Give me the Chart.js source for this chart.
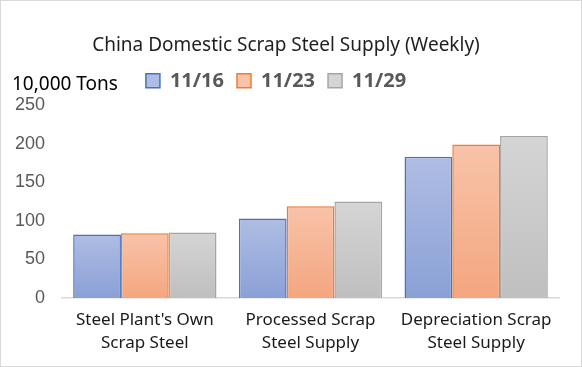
<!DOCTYPE html>
<html>
<head>
<meta charset="utf-8">
<script src="https://cdn.jsdelivr.net/npm/chart.js@4.4.1/dist/chart.umd.min.js"></script>
<style>
  body { margin: 0; background: #fff; }
  #wrap { width: 582px; height: 367px; position: relative; }
</style>
</head>
<body>
<div id="wrap"><canvas id="supply-chart"></canvas></div>
<script>
// data (10,000 tons)
const categories = [
    ["Steel Plant's Own", "Scrap Steel"],
    ["Processed Scrap", "Steel Supply"],
    ["Depreciation Scrap", "Steel Supply"]
];
const weekLabels = ["11/16", "11/23", "11/29"];
const nov16 = [82.5, 103, 183];
const nov23 = [84, 119, 199];
const nov29 = [85, 125, 210];
const yTicks = [0, 50, 100, 150, 200, 250];

// top -> bottom gradient for every bar, like the office chart
function barFill(top, mid, bottom) {
    return (ctx) => {
        const chart = ctx.chart;
        const y = chart.scales && chart.scales.y;
        if (!chart.chartArea || !y || typeof ctx.raw !== 'number') return mid;
        const g = chart.ctx.createLinearGradient(0, y.getPixelForValue(ctx.raw), 0, y.getPixelForValue(0));
        g.addColorStop(0, top);
        g.addColorStop(1, bottom);
        return g;
    };
}

const frame = {
    id: 'frame',
    beforeDraw(chart) {
        const c = chart.ctx;
        c.save();
        c.fillStyle = '#fff';
        c.fillRect(0, 0, chart.width, chart.height);
        c.strokeStyle = '#d9d9d9';
        c.lineWidth = 1;
        c.strokeRect(0.5, 0.5, chart.width - 1, chart.height - 1);
        c.restore();
    },
    afterLayout(chart) {
        // legend sits a bit left of the title centre
        if (chart.legend) {
            chart.legend.left -= 10;
            chart.legend.right -= 10;
        }
    },
    afterDraw(chart) {
        const c = chart.ctx;
        c.save();
        c.font = '19px "Noto Sans"';
        c.fillStyle = '#000';
        c.textBaseline = 'middle';
        c.textAlign = 'left';
        c.fillText('10,000 Tons', 12, 85);
        c.restore();
    }
};

document.addEventListener("DOMContentLoaded", () => {
    new Chart(document.getElementById('supply-chart'), {
        type: 'bar',
        data: {
            labels: categories,
            datasets: [
                {
                    label: weekLabels[0],
                    data: nov16,
                    backgroundColor: barFill('#afbde3', '#9badda', '#8aa0d6'),
                    borderColor: '#4472c4',
                    borderWidth: 1.5
                },
                {
                    label: weekLabels[1],
                    data: nov23,
                    backgroundColor: barFill('#f8c3a9', '#f6b391', '#f4a67f'),
                    borderColor: '#ed7d31',
                    borderWidth: 1.5
                },
                {
                    label: weekLabels[2],
                    data: nov29,
                    backgroundColor: barFill('#d5d5d5', '#cacaca', '#bfbfbf'),
                    borderColor: '#a5a5a5',
                    borderWidth: 1.5
                }
            ]
        },
        options: {
            responsive: true,
            maintainAspectRatio: false,
            animation: false,
            categoryPercentage: 0.865,
            barPercentage: 1.0,
            layout: { padding: { top: 0, left: 13, right: 23, bottom: 1 } },
            plugins: {
                title: {
                    display: true,
                    text: 'China Domestic Scrap Steel Supply (Weekly)',
                    color: '#1f1f1f',
                    font: { family: 'Noto Sans', size: 19, weight: 'normal' },
                    padding: { top: 34, bottom: 1 }
                },
                // empty spacer between legend and plot
                subtitle: {
                    display: true,
                    text: '',
                    weight: 500,
                    font: { size: 1 },
                    padding: { top: 3, bottom: 0 }
                },
                legend: {
                    position: 'top',
                    labels: {
                        boxWidth: 14,
                        boxHeight: 14,
                        padding: 13,
                        color: '#595959',
                        font: { family: 'Noto Sans', size: 20, weight: 'bold' }
                    }
                },
                tooltip: { enabled: false }
            },
            scales: {
                x: {
                    grid: { display: false, drawTicks: false },
                    border: { display: true, color: '#d9d9d9', width: 1.5 },
                    ticks: {
                        color: '#1a1a1a',
                        padding: 11,
                        maxRotation: 0,
                        font: { family: 'Noto Sans', size: 17, lineHeight: 1.35 }
                    }
                },
                y: {
                    min: yTicks[0],
                    max: yTicks[yTicks.length - 1],
                    grid: { display: false, drawTicks: false },
                    border: { display: false },
                    afterFit(scale) {
                        scale.width = 49;
                    },
                    ticks: {
                        stepSize: yTicks[1] - yTicks[0],
                        color: '#595959',
                        padding: 17,
                        font: { family: 'Liberation Sans', size: 18 }
                    }
                }
            }
        },
        plugins: [frame]
    });
});
</script>
</body>
</html>
